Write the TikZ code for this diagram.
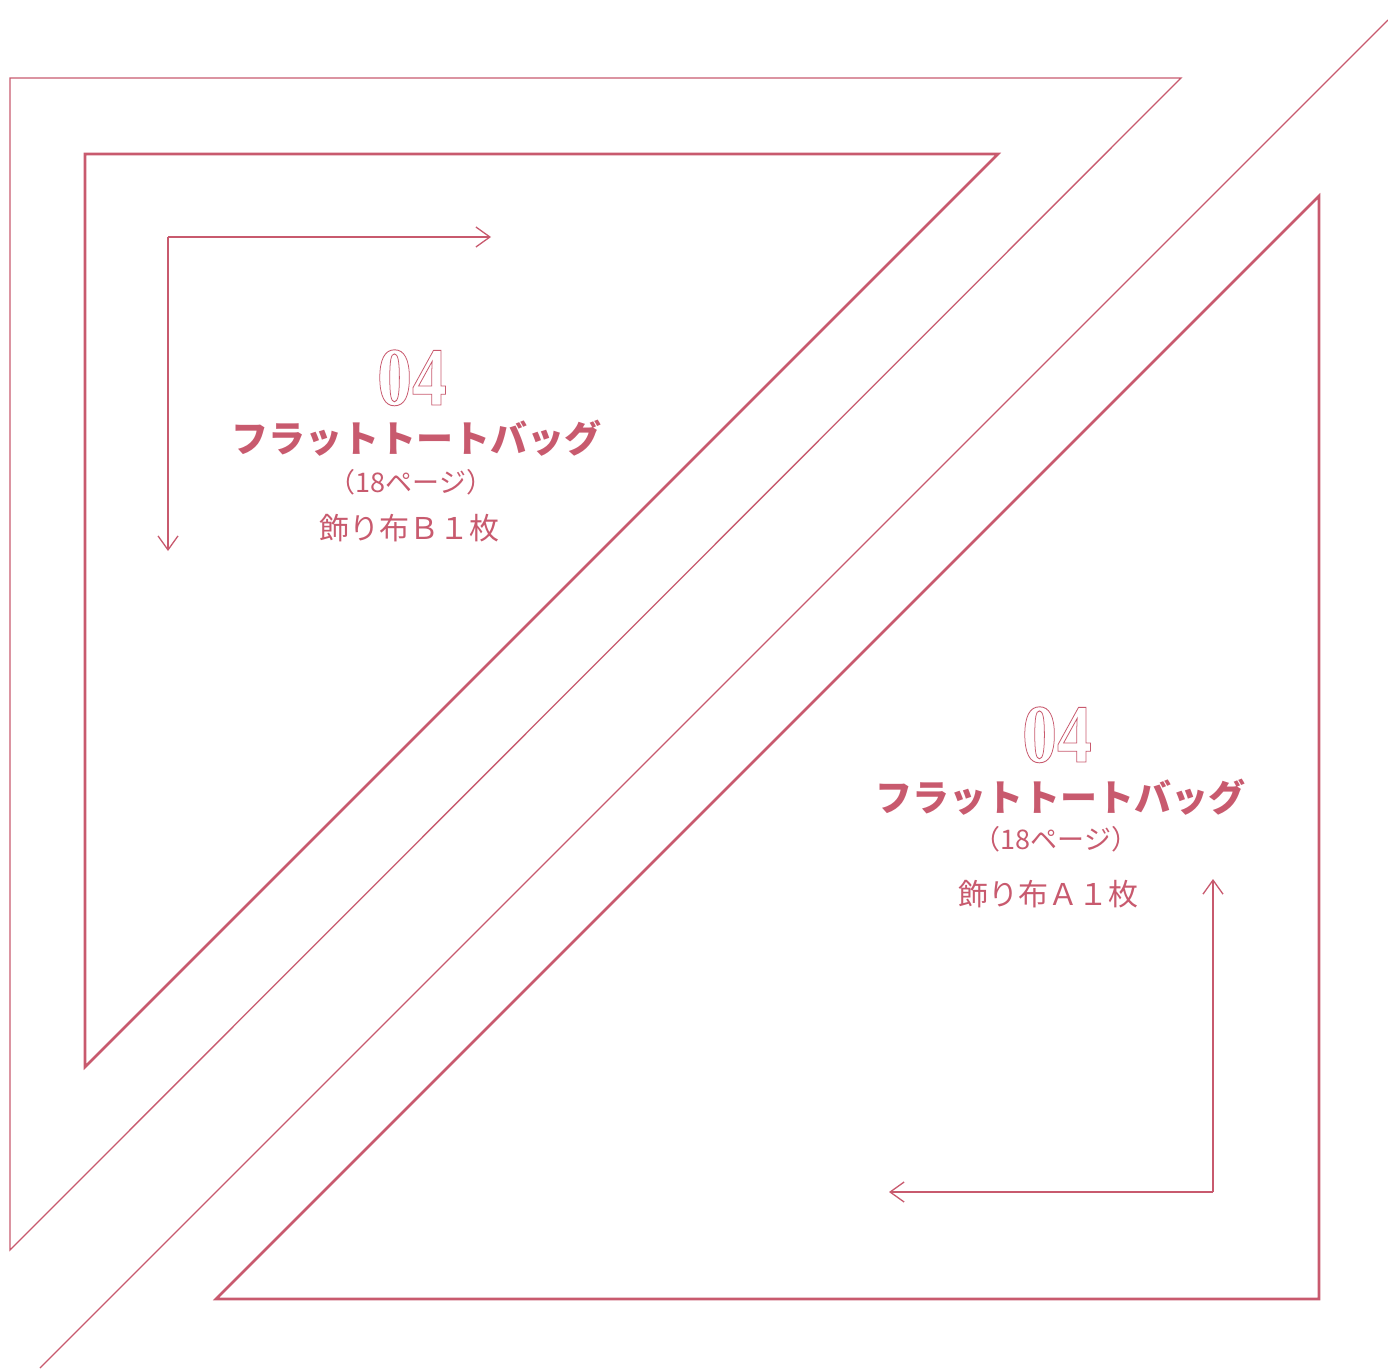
\documentclass[tikz,border=0pt]{standalone}
\usepackage{fontspec}
\usetikzlibrary{arrows.meta}
\newfontfamily\jp{Noto Sans CJK JP}
\newfontfamily\numfont{Liberation Serif}
\definecolor{rose}{RGB}{200,90,110}
\newcommand\outlinetext[1]{\special{pdf:literal direct 1 Tr 0.9 w}#1\special{pdf:literal direct 0 Tr}}
\begin{document}
\begin{tikzpicture}[x=1pt,y=-1pt,line join=miter,
  thinline/.style={draw=rose,line width=1.3pt},
  thickline/.style={draw=rose,line width=2.6pt},
  arr/.style={draw=rose,line width=1.3pt,-{Straight Barb[length=14pt,width=20pt]}},
  num/.style={text=rose,anchor=base,inner sep=0pt},
  jtxt/.style={text=rose,inner sep=0pt,font=\jp}]
\useasboundingbox (0,0) rectangle (1388,1368);
% outer thin triangle
\draw[thinline] (10,78) -- (1181,78) -- (10,1250) -- cycle;
% thin diagonal line
\coordinate (d1) at (1388,20);
\coordinate (d2) at (40,1368);
\draw[thinline] (d1) -- (d2);
% triangle B
\draw[thickline] (85,154) -- (998,154) -- (85,1067) -- cycle;
% triangle A
\draw[thickline] (1319,196) -- (1319,1299) -- (216,1299) -- cycle;
% arrows B
\coordinate (bc) at (168,237);
\coordinate (bd) at (168,551);
\coordinate (br) at (491,237);
\draw[arr] (bc) -- (br);
\draw[arr] (bc) -- (bd);
% arrows A
\coordinate (ac) at (1213,1192);
\coordinate (al) at (889,1192);
\coordinate (au) at (1213,879);
\draw[arr] (ac) -- (al);
\draw[arr] (ac) -- (au);
% texts B
\node[num] (nB) at (412,405) {\scalebox{0.84}[1]{\numfont\fontsize{83}{83}\selectfont\bfseries\outlinetext{04}}};
\node[jtxt,font=\jp\bfseries\fontsize{37}{37}\selectfont] (tB) at (416,438) {フラットトートバッグ};
\node[jtxt,font=\jp\fontsize{27}{27}\selectfont] (pB) at (411,482) {（18ページ）};
\node[jtxt,font=\jp\fontsize{30}{30}\selectfont] (kB) at (409,528) {飾り布Ｂ１枚};
% texts A
\node[num] (nA) at (1057,762) {\scalebox{0.84}[1]{\numfont\fontsize{83}{83}\selectfont\bfseries\outlinetext{04}}};
\node[jtxt,font=\jp\bfseries\fontsize{37}{37}\selectfont] (tA) at (1060,797) {フラットトートバッグ};
\node[jtxt,font=\jp\fontsize{27}{27}\selectfont] (pA) at (1056,839) {（18ページ）};
\node[jtxt,font=\jp\fontsize{30}{30}\selectfont] (kA) at (1048,894) {飾り布Ａ１枚};
\end{tikzpicture}
\end{document}
